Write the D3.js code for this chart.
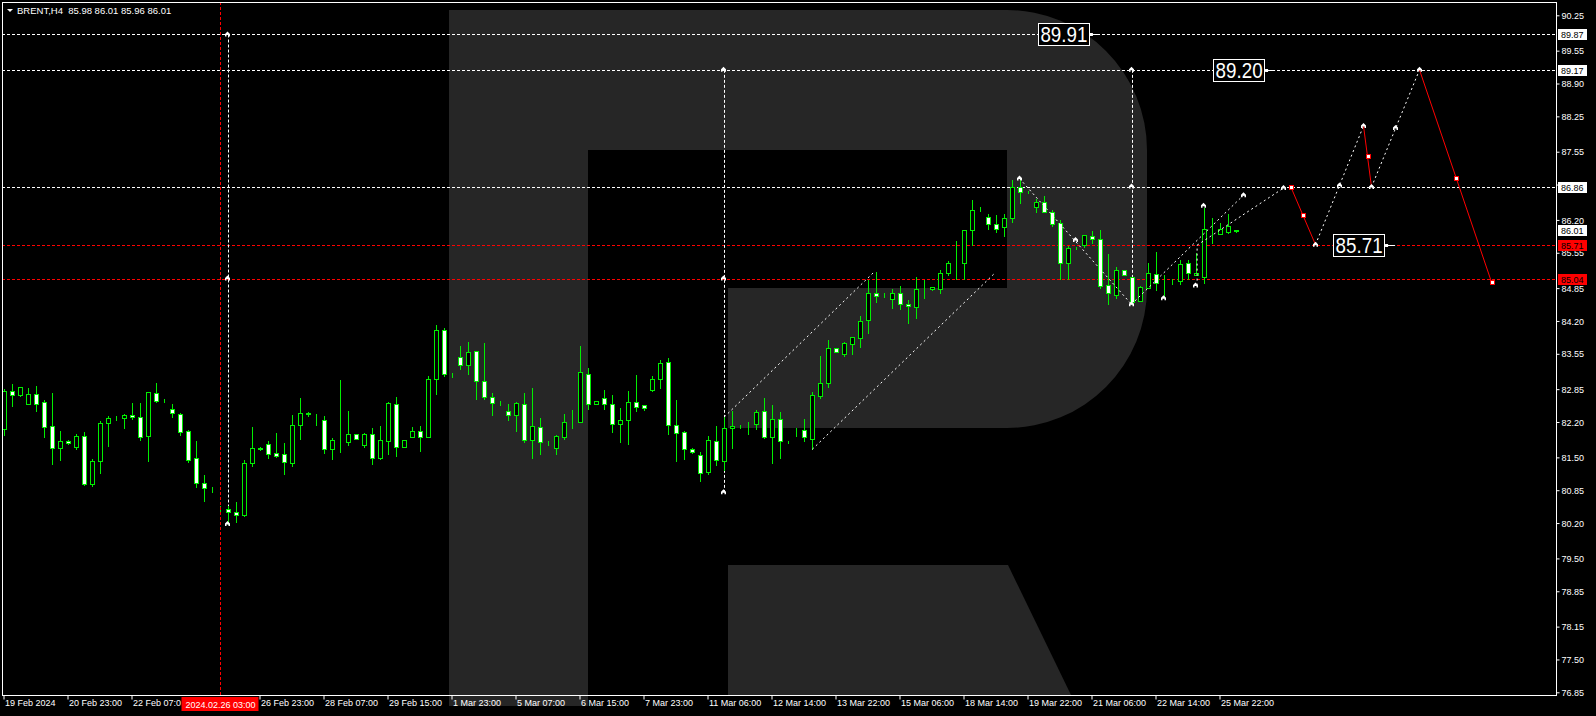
<!DOCTYPE html>
<html><head><meta charset="utf-8">
<script src="https://cdn.jsdelivr.net/npm/d3@7"></script>
<style>html,body{margin:0;padding:0;background:#000;overflow:hidden}svg{display:block}</style>
</head><body>
<svg id="c" width="1596" height="716"></svg>
<script>
// ---------------- DATA ----------------
const symbolName = "BRENT,H4";
const headerValues = ["85.98","86.01","85.96","86.01"];

const opens = [82.07,82.81,82.74,82.56,82.75,82.60,82.12,81.69,81.82,81.71,81.92,80.98,81.42,82.19,82.27,82.27,82.34,82.29,81.93,82.77,
82.63,82.45,82.36,82.03,81.48,81.00,80.88,80.48,80.47,80.41,80.35,81.38,81.67,81.76,81.58,81.56,81.38,82.15,82.37,82.23,
82.23,81.66,81.84,81.81,81.96,81.75,81.96,81.49,81.83,82.56,81.71,81.91,82.02,81.91,83.06,84.03,83.14,83.48,83.32,83.60,
83.01,82.69,82.58,82.41,82.34,82.55,81.85,82.10,81.79,81.69,81.91,82.23,82.21,83.16,82.56,82.67,82.55,82.17,82.24,82.59,
82.53,82.84,83.06,83.38,82.15,82.00,81.66,81.54,81.22,81.82,81.43,82.09,82.12,82.15,82.17,82.41,81.91,82.25,81.80,82.04,
82.05,81.87,82.72,82.98,83.66,83.55,83.75,83.87,84.21,84.75,84.71,84.64,84.75,84.53,84.48,84.84,84.84,84.84,85.14,85.34,
85.35,86.01,86.42,86.26,86.11,86.05,86.23,86.86,86.76,86.45,86.56,86.36,86.13,85.34,85.64,85.70,85.88,85.82,84.91,84.72,
85.21,85.08,84.60,84.86,85.12,84.97,84.99,84.99,85.34,85.10,85.08,86.03,85.93,85.97,85.98];
const highs = [82.85,82.95,82.90,82.87,82.91,82.64,82.77,82.02,81.84,81.96,82.00,81.47,82.22,82.31,82.31,82.36,82.58,82.58,82.80,82.97,
82.66,82.56,82.38,82.05,81.82,81.15,80.92,80.54,80.54,80.62,81.45,82.10,81.70,81.82,81.98,81.78,82.34,82.68,82.39,82.35,
82.32,81.88,83.03,82.42,81.96,81.99,82.08,82.12,82.60,82.69,81.84,82.10,82.12,83.11,84.12,84.06,83.17,83.70,83.78,83.60,
83.76,82.77,82.62,82.55,82.59,82.77,82.87,82.27,81.83,81.94,82.36,82.44,83.70,83.27,82.61,82.83,82.73,82.48,82.81,83.13,
82.53,83.11,83.42,83.46,82.64,82.02,81.68,81.60,81.92,82.12,82.30,82.41,82.15,82.20,82.44,82.67,82.54,82.39,81.82,82.09,
82.25,82.79,83.51,83.82,83.66,83.78,83.88,84.30,85.01,85.17,84.75,84.83,84.89,84.61,85.08,85.01,84.88,85.21,85.39,85.78,
86.01,86.59,86.46,86.32,86.29,86.32,86.99,87.02,86.77,86.61,86.67,86.40,86.20,85.68,85.66,85.90,85.98,86.01,85.52,85.27,
85.21,85.08,84.89,85.34,85.56,85.11,85.04,85.41,85.41,85.54,86.43,86.23,86.13,86.32,86.01];
const lows = [81.94,82.52,82.71,82.56,82.42,81.91,81.37,81.45,81.76,81.67,80.96,80.94,81.20,81.73,82.23,82.09,82.25,81.84,81.43,82.60,
82.60,82.29,81.95,81.40,80.92,80.64,80.82,80.43,80.18,80.23,80.33,81.33,81.65,81.49,81.51,81.18,81.32,81.86,82.32,82.15,
81.59,81.47,81.61,81.75,81.87,81.70,81.37,81.47,81.57,81.53,81.71,81.91,81.63,81.91,82.75,83.12,83.09,83.25,83.16,82.66,
82.66,82.33,82.54,82.23,82.03,81.81,81.49,81.57,81.74,81.57,81.87,82.08,82.21,82.46,82.56,82.46,82.00,81.80,81.77,82.42,
82.44,82.81,82.88,81.97,81.42,81.47,81.59,81.04,81.18,81.34,81.25,81.69,82.09,81.97,82.06,81.89,81.39,81.49,81.78,81.93,
81.83,81.67,82.68,82.90,83.58,83.51,83.55,83.69,83.97,84.58,84.68,84.46,84.44,84.15,84.26,84.66,84.81,84.76,85.10,85.04,
85.03,85.71,86.38,86.03,85.96,85.89,86.16,86.54,86.73,86.36,86.36,86.07,85.04,85.03,85.62,85.67,85.74,84.85,84.54,84.65,
85.10,84.54,84.59,84.85,84.81,84.68,84.94,84.94,85.04,85.10,84.96,85.75,85.92,85.95,85.96];
const closes = [82.81,82.73,82.89,82.75,82.56,82.11,81.69,81.82,81.78,81.92,80.98,81.43,82.18,82.28,82.28,82.34,82.29,81.91,82.79,82.62,
82.63,82.37,82.01,81.45,81.00,80.89,80.88,80.48,80.41,80.35,81.38,81.68,81.68,81.56,81.53,81.40,82.15,82.37,82.35,82.23,
81.66,81.84,81.84,81.96,81.87,81.96,81.49,81.84,82.58,81.71,81.84,82.02,81.91,83.06,84.03,83.16,83.14,83.32,83.58,83.01,
82.69,82.57,82.58,82.33,82.57,81.85,82.12,81.80,81.79,81.92,82.21,82.23,83.18,82.56,82.61,82.55,82.17,82.23,82.59,82.50,
82.48,83.05,83.36,82.15,81.98,81.67,81.61,81.20,81.84,81.45,82.09,82.13,82.12,82.15,82.39,81.91,82.25,81.82,81.80,82.04,
81.90,82.73,82.98,83.66,83.58,83.76,83.88,84.20,84.75,84.70,84.71,84.75,84.53,84.49,84.83,84.84,84.88,85.14,85.34,85.34,
86.01,86.39,86.42,86.11,86.03,86.23,86.86,86.76,86.76,86.55,86.36,86.11,85.34,85.64,85.64,85.90,85.82,84.90,84.75,85.21,
85.10,84.58,84.87,85.14,84.96,84.97,84.99,85.32,85.14,85.14,86.03,86.03,86.03,86.08,86.01];

const priceTicks = [90.25,89.55,88.90,88.25,87.55,86.90,86.20,85.55,84.85,84.20,83.55,82.85,82.20,81.50,80.85,80.20,79.50,78.85,78.15,77.50,76.85];
// the label at bar 16 is cut by the cursor date box, as in the chart
const timeTickBars = [0,8,16,32,40,48,56,64,72,80,88,96,104,112,120,128,136,144,152];
const timeTickLabels = ["19 Feb 2024","20 Feb 23:00","22 Feb 07:0","26 Feb 23:00","28 Feb 07:00","29 Feb 15:00","1 Mar 23:00","5 Mar 07:00","6 Mar 15:00","7 Mar 23:00","11 Mar 06:00","12 Mar 14:00","13 Mar 22:00","15 Mar 06:00","18 Mar 14:00","19 Mar 22:00","21 Mar 06:00","22 Mar 14:00","25 Mar 22:00"];
const cursorBar = 27, cursorLabel = "2024.02.26 03:00";

const whiteLevels = [89.87, 89.17, 86.86];
const redLevels = [85.71, 85.04];
const currentPrice = 86.01;

// vertical measuring lines: [bar, topPrice, bottomPrice, markerPrices]
const verticals = [[28, 89.87, 80.18, [89.87,85.04,80.18]],
                   [90, 89.17, 80.81, [89.17,85.04,80.81]],
                   [141, 89.17, 84.53, [89.17,86.86,84.53]]];
// dotted analysis lines [[bar,price],[bar,price]]
const dottedLines = [
  [[90.1,82.30],[108.7,85.15]],
  [[101.1,81.66],[123.8,85.13]],
  [[127,87.02],[141,84.53]],
  [[141,84.53],[155,86.69]],
  [[149.2,84.90],[149.2,85.70]],
  [[149.2,85.70],[160,86.83]],
  [[164,85.71],[170,88.06]],
  [[171,86.85],[177,89.17]]
];
const forecastRed = [[[160.9,86.86],[164,85.71]],[[170,88.06],[171,86.85]],[[177,89.17],[186,84.97]]];
const redSquares = [[160.9,86.86],[162.45,86.29],[170.5,87.46],[181.5,87.03],[186,84.97]];
const whiteMarkers = [[127,87.02],[134,85.80],[145,84.65],[149,84.90],[150,86.48],[155,86.69],[160,86.83],
  [164,85.71],[167,86.88],[170,88.06],[171,86.85],[174,88.02],[177,89.17]];
// boxed target labels [leftBar, price, text]
const targetLabels = [[129.3,89.87,"89.91"],[151.2,89.17,"89.20"],[166.2,85.71,"85.71"]];

// ---------------- DRAW ----------------
const svg = d3.select("#c");
const P = {l:2, r:1556, t:2, b:695};
const y = d3.scaleLinear().domain([76.85, 90.25]).range([692.3, 15.3]);
const x = d3.scaleLinear().domain([0, 1]).range([3.5, 11.5]);
const px = v => Math.round(v) + 0.5;
const GREEN = "#00ee00", RED = "#ff0000", FONT = "'Liberation Sans', Arial, sans-serif";

svg.append("rect").attr("width",1596).attr("height",716).attr("fill","#000");

// watermark logo
const G = "#262626";
svg.append("path").attr("fill",G)
  .attr("d","M449,10 H1007 A140,140 0 0 1 1147,150 V288 A140,140 0 0 1 1007,428 H728 V288 H1007 V150 H588 V706 H449 Z");
svg.append("path").attr("fill",G).attr("d","M728,565 H1008 L1071,695 H728 Z");

svg.append("clipPath").attr("id","pc").append("rect")
  .attr("x",P.l+1).attr("y",P.t+1).attr("width",P.r-P.l-1).attr("height",P.b-P.t-1);
const g = svg.append("g").attr("clip-path","url(#pc)");

// level lines
whiteLevels.forEach(v => g.append("line").attr("x1",P.l).attr("x2",P.r).attr("y1",px(y(v))).attr("y2",px(y(v)))
  .attr("stroke","#fff").attr("stroke-dasharray","3,2"));
redLevels.forEach(v => g.append("line").attr("x1",P.l).attr("x2",P.r).attr("y1",px(y(v))).attr("y2",px(y(v)))
  .attr("stroke",RED).attr("stroke-dasharray","3,2"));

// red cursor vertical
svg.append("line").attr("x1",px(x(cursorBar))).attr("x2",px(x(cursorBar))).attr("y1",P.t).attr("y2",698)
  .attr("stroke",RED).attr("stroke-dasharray","3,2");

// vertical measuring lines
verticals.forEach(([b,t,bt]) => g.append("line").attr("x1",px(x(b))).attr("x2",px(x(b)))
  .attr("y1",y(t)).attr("y2",y(bt)).attr("stroke","#fff").attr("stroke-dasharray","3,2"));

// candles
const idx = d3.range(opens.length);
const cg = g.append("g").attr("shape-rendering","crispEdges");
cg.selectAll("line.w").data(idx).join("line").attr("class","w")
  .attr("x1",i=>px(x(i))).attr("x2",i=>px(x(i)))
  .attr("y1",i=>Math.round(y(highs[i]))).attr("y2",i=>Math.round(y(lows[i]))+1)
  .attr("stroke",GREEN);
cg.selectAll("rect.b").data(idx).join("rect").attr("class","b")
  .attr("x",i=>px(x(i))-2)
  .attr("y",i=>px(y(Math.max(opens[i],closes[i]))))
  .attr("width",4)
  .attr("height",i=>Math.max(0, Math.round(y(Math.min(opens[i],closes[i]))) - Math.round(y(Math.max(opens[i],closes[i])))))
  .attr("fill",i=> closes[i] < opens[i] ? "#fff" : "#000")
  .attr("stroke",GREEN);

// dotted analysis lines
dottedLines.forEach(seg => g.append("path").attr("d", d3.line().x(d=>x(d[0])).y(d=>y(d[1]))(seg))
  .attr("stroke","#fff").attr("stroke-dasharray","2,3").attr("fill","none"));
// forecast red
forecastRed.forEach(seg => g.append("path").attr("d", d3.line().x(d=>x(d[0])).y(d=>y(d[1]))(seg))
  .attr("stroke",RED).attr("fill","none"));

// markers
const mk = "M-2.5,2 L-2.5,-0.5 L0,-3 L2.5,-0.5 L2.5,2 L1,2 L1,0.5 L-1,0.5 L-1,2 Z";
const allMarkers = whiteMarkers.concat(...verticals.map(v => v[3].map(p => [v[0], p])));
g.selectAll("path.mk").data(allMarkers).join("path").attr("class","mk")
  .attr("transform",d=>`translate(${x(d[0])},${y(d[1])})`).attr("d",mk).attr("fill","#fff");
g.selectAll("rect.sq").data(redSquares).join("rect").attr("class","sq")
  .attr("x",d=>Math.round(x(d[0]))-2+0.5).attr("y",d=>Math.round(y(d[1]))-2+0.5).attr("width",4).attr("height",4)
  .attr("fill","#fff").attr("stroke",RED).attr("shape-rendering","crispEdges");

// boxed target labels
targetLabels.forEach(([b,p,t]) => {
  const x0 = x(b), yc = y(p);
  g.append("rect").attr("x",px(x0)).attr("y",px(yc-11)).attr("width",51).attr("height",22)
    .attr("fill","#000").attr("stroke","#fff").attr("shape-rendering","crispEdges");
  g.append("text").attr("x",x0+26).attr("y",yc+8).attr("text-anchor","middle")
    .attr("font-family",FONT).attr("font-size",22).attr("fill","#fff")
    .attr("textLength",47).attr("lengthAdjust","spacingAndGlyphs").text(t);
  g.append("line").attr("x1",x0+52).attr("x2",x0+62).attr("y1",px(yc)).attr("y2",px(yc)).attr("stroke","#fff");
  g.append("rect").attr("x",x0+52).attr("y",Math.round(yc)-1).attr("width",3).attr("height",3).attr("fill","#fff");
});

// frame
svg.append("rect").attr("x",P.l+0.5).attr("y",P.t+0.5).attr("width",P.r-P.l).attr("height",P.b-P.t)
  .attr("fill","none").attr("stroke","#fff").attr("shape-rendering","crispEdges");

// right axis
const ay = d3.axisRight(y).tickValues(priceTicks).tickFormat(d3.format(".2f")).tickSize(3).tickPadding(2);
const gy = svg.append("g").attr("transform",`translate(${P.r+0.5},0)`).call(ay);
gy.select(".domain").remove();
gy.selectAll("line").attr("stroke","#fff");
gy.selectAll("text").attr("fill","#fff").attr("font-family",FONT).attr("font-size",9).attr("dy","0.35em");

// bottom axis
const ax = d3.axisBottom(x).tickValues(timeTickBars).tickFormat((d,i)=>timeTickLabels[i]).tickSize(4).tickPadding(2);
const gx = svg.append("g").attr("transform",`translate(0,${P.b+0.5})`).call(ax);
gx.select(".domain").remove();
gx.selectAll("line").attr("stroke","#fff");
gx.selectAll("text").attr("fill","#fff").attr("font-family",FONT).attr("font-size",9)
  .attr("text-anchor","start").attr("dx",1).attr("dy","0.5em");

// axis value boxes
function axisBox(v, bg, fg){
  const yc = Math.round(y(v));
  svg.append("rect").attr("x",1558).attr("y",yc-5).attr("width",29).attr("height",11).attr("fill",bg);
  svg.append("text").attr("x",1561).attr("y",yc+0.5).attr("dy","0.35em").attr("font-family",FONT)
    .attr("font-size",9).attr("fill",fg).text(d3.format(".2f")(v));
}
whiteLevels.forEach(v => axisBox(v,"#fff","#000"));
axisBox(currentPrice,"#fff","#000");
redLevels.forEach(v => axisBox(v,RED,"#000"));

// cursor date box
const cx = x(cursorBar);
svg.append("rect").attr("x",cx-38).attr("y",697).attr("width",77).attr("height",14).attr("fill",RED);
svg.append("text").attr("x",cx+1).attr("y",704.5).attr("dy","0.35em").attr("text-anchor","middle")
  .attr("font-family",FONT).attr("font-size",9).attr("fill","#fff").text(cursorLabel);

// header
svg.append("path").attr("d","M7,9 H13 L10,12 Z").attr("fill","#fff");
svg.append("text").attr("x",17).attr("y",14).attr("font-family",FONT).attr("font-size",9.5)
  .attr("fill","#fff").attr("xml:space","preserve").style("white-space","pre")
  .text(symbolName + "  " + headerValues.join(" "));
</script>
</body></html>
